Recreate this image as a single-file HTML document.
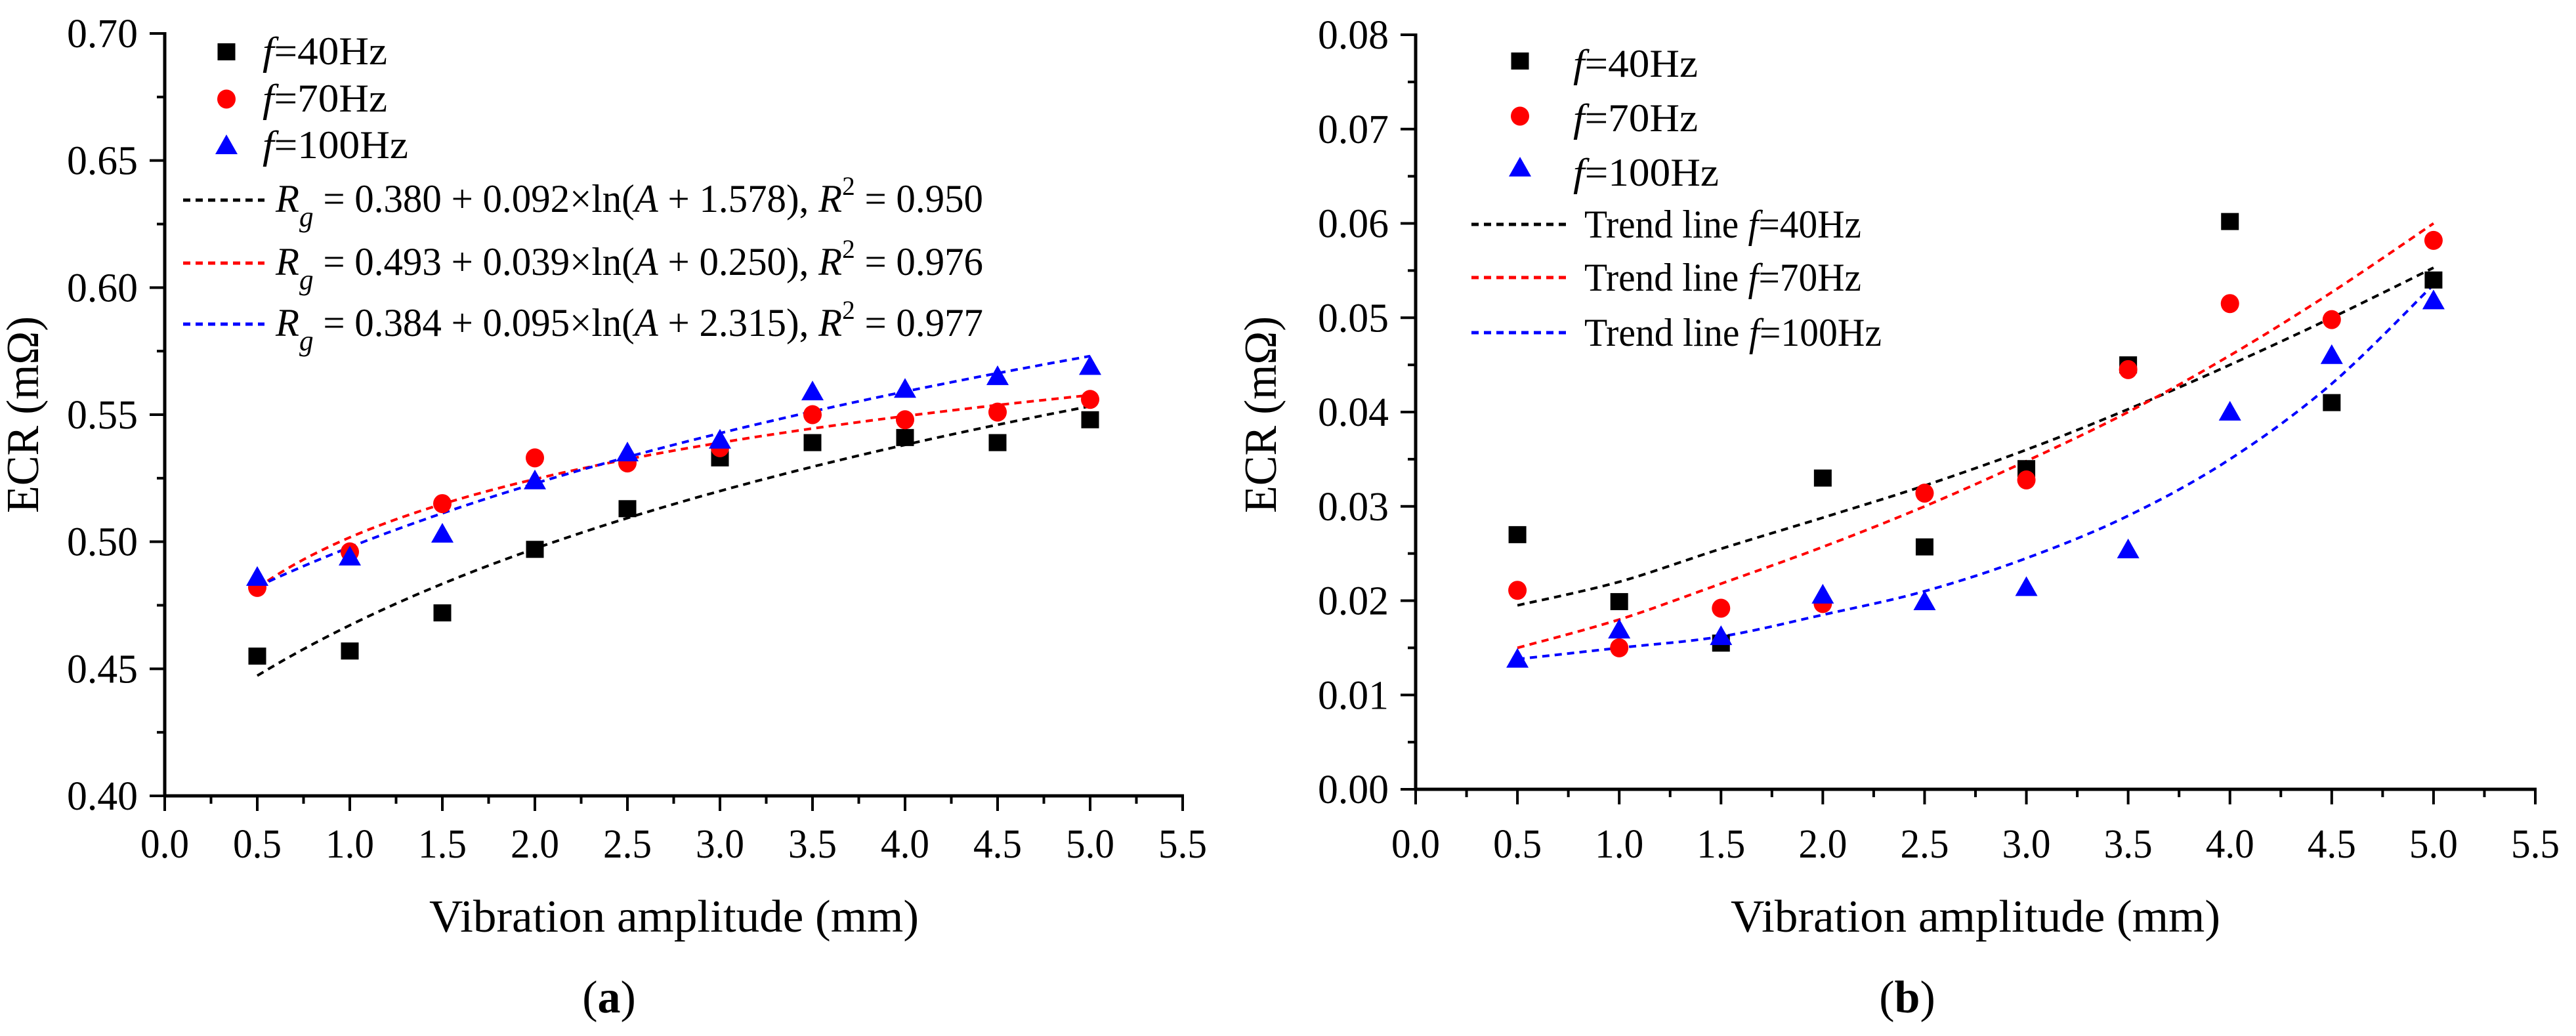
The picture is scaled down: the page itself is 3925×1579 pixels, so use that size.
<!DOCTYPE html>
<html><head><meta charset="utf-8"><style>
html,body{margin:0;padding:0;background:#fff;}
svg, svg text{font-family:"Liberation Serif","Times New Roman",serif;}
</style></head><body>
<svg id="fig" width="3925" height="1574" viewBox="0 0 3925 1574" xmlns="http://www.w3.org/2000/svg">
<rect width="3925" height="1574" fill="#fff"/>
<g id="pa"></g>
<g id="pb"></g>
</svg>
<script>
// ---- data ----
const xVals = [0.5,1.0,1.5,2.0,2.5,3.0,3.5,4.0,4.5,5.0];
const xTicks = ["0.0","0.5","1.0","1.5","2.0","2.5","3.0","3.5","4.0","4.5","5.0","5.5"];
const aY40 = [0.455,0.457,0.472,0.497,0.513,0.533,0.539,0.541,0.539,0.548];
const aY70 = [0.482,0.496,0.515,0.533,0.531,0.537,0.550,0.548,0.551,0.556];
const aY100 = [0.486,0.494,0.503,0.524,0.535,0.540,0.559,0.560,0.565,0.569];
const aFit40 = [0.380,0.092,1.578];
const aFit70 = [0.493,0.039,0.250];
const aFit100 = [0.384,0.095,2.315];
const aYTicks = ["0.40","0.45","0.50","0.55","0.60","0.65","0.70"];
const bY40 = [0.0270,0.0199,0.0155,0.0330,0.0257,0.0340,0.0450,0.0602,0.0410,0.0540];
const bY70 = [0.0211,0.0150,0.0192,0.0197,0.0314,0.0328,0.0445,0.0515,0.0498,0.0582];
const bY100 = [0.0138,0.0169,0.0162,0.0206,0.0199,0.0214,0.0254,0.0400,0.0460,0.0518];
const bTrend40 = [0.0195,0.0220,0.0255,0.0288,0.0322,0.0360,0.0403,0.0450,0.0500,0.0553];
const bTrend70 = [0.0150,0.0180,0.0218,0.0257,0.0300,0.0348,0.0400,0.0460,0.0527,0.0600];
const bTrend100 = [0.0138,0.0150,0.0162,0.0185,0.0210,0.0245,0.0290,0.0350,0.0430,0.0535];
const bYTicks = ["0.00","0.01","0.02","0.03","0.04","0.05","0.06","0.07","0.08"];

const NS="http://www.w3.org/2000/svg";
const FF='"Liberation Serif", "Times New Roman", serif';
function mk(parent,tag,attrs,txt){const e=document.createElementNS(NS,tag);if(tag==='text')e.setAttribute('font-family',FF);for(const k in attrs)e.setAttribute(k,attrs[k]);if(txt!==undefined)e.textContent=txt;parent.appendChild(e);return e;}

function panel(g,cfg){
  const X=v=>cfg.x0+(v-0)/5.5*(cfg.x1-cfg.x0);
  const Y=v=>cfg.yb-(v-cfg.ymin)/(cfg.ymax-cfg.ymin)*(cfg.yb-cfg.yt);
  let e=mk(g,'line',{x1:cfg.x0,y1:cfg.yt-2,x2:cfg.x0,y2:cfg.yb+2,stroke:'#000','stroke-width':5});
  
  e=mk(g,'line',{x1:cfg.x0-2,y1:cfg.yb,x2:cfg.x1+2,y2:cfg.yb,stroke:'#000','stroke-width':5});
  
  xTicks.forEach((t,i)=>{
    const v=i*0.5,x=X(v);
    let l=mk(g,'line',{x1:x,y1:cfg.yb,x2:x,y2:cfg.yb+23,stroke:'#000','stroke-width':4});
    
    if(i<xTicks.length-1){let m=mk(g,'line',{x1:X(v+0.25),y1:cfg.yb,x2:X(v+0.25),y2:cfg.yb+12,stroke:'#000','stroke-width':4});
      }
    let tx=mk(g,'text',{x:x,y:1307,'font-size':62,'text-anchor':'middle',textLength:74,lengthAdjust:'spacingAndGlyphs'},t);
    
  });
  const n=cfg.yTicks.length, step=(cfg.ymax-cfg.ymin)/(n-1);
  cfg.yTicks.forEach((t,i)=>{
    const v=cfg.ymin+i*step,y=Y(v);
    let l=mk(g,'line',{x1:cfg.x0-23,y1:y,x2:cfg.x0,y2:y,stroke:'#000','stroke-width':4});
    
    if(i<n-1){let m=mk(g,'line',{x1:cfg.x0-12,y1:Y(v+step/2),x2:cfg.x0,y2:Y(v+step/2),stroke:'#000','stroke-width':4});
      }
    let tx=mk(g,'text',{x:cfg.x0-41,y:y+21,'font-size':62,'text-anchor':'end',textLength:108,lengthAdjust:'spacingAndGlyphs'},t);
    
  });
  let yt=mk(g,'text',{x:0,y:0,'font-size':70,'text-anchor':'middle',textLength:300,lengthAdjust:'spacingAndGlyphs',transform:`translate(${cfg.ytx},${cfg.yty}) rotate(-90)`},'ECR (mΩ)');
  
  let xt=mk(g,'text',{x:cfg.xtx,y:1420,'font-size':70,'text-anchor':'middle',textLength:746,lengthAdjust:'spacingAndGlyphs'},'Vibration amplitude (mm)');
  
  let pl=mk(g,'text',{x:cfg.plx,y:1543,'font-size':70,'text-anchor':'middle'});
  
  mk(pl,'tspan',{},'(');mk(pl,'tspan',{'font-weight':'bold'},cfg.label);mk(pl,'tspan',{},')');
  return {X,Y};
}
function curve(g,pts,color,name){
  let d='M'+pts.map(p=>p[0].toFixed(1)+','+p[1].toFixed(1)).join(' L');
  const p=mk(g,'path',{d:d,fill:'none',stroke:color,'stroke-width':4,'stroke-dasharray':'11 8'});
  
}
function spline(xs,ys,X,Y){
  const P=xs.map((x,i)=>[X(x),Y(ys[i])]);const out=[];
  for(let i=0;i<P.length-1;i++){
    const p0=P[Math.max(0,i-1)],p1=P[i],p2=P[i+1],p3=P[Math.min(P.length-1,i+2)];
    for(let t=0;t<1;t+=0.1){const t2=t*t,t3=t2*t;
      out.push([0.5*((2*p1[0])+(-p0[0]+p2[0])*t+(2*p0[0]-5*p1[0]+4*p2[0]-p3[0])*t2+(-p0[0]+3*p1[0]-3*p2[0]+p3[0])*t3),
                0.5*((2*p1[1])+(-p0[1]+p2[1])*t+(2*p0[1]-5*p1[1]+4*p2[1]-p3[1])*t2+(-p0[1]+3*p1[1]-3*p2[1]+p3[1])*t3)]);}
  }
  out.push(P[P.length-1]);return out;
}
function marker(g,type,x,y,name){
  let e;
  if(type==='sq')e=mk(g,'rect',{x:x-13.5,y:y-13,width:27,height:26,fill:'#000'});
  else if(type==='ci')e=mk(g,'ellipse',{cx:x,cy:y,rx:14,ry:14.5,fill:'#f00'});
  else e=mk(g,'polygon',{points:`${x},${y-17} ${x-17},${y+13} ${x+17},${y+13}`,fill:'#00f'});
  
}
function legendText(g,x,y,parts,len,name){
  const t=mk(g,'text',{x:x,y:y,'font-size':60,textLength:len,lengthAdjust:'spacingAndGlyphs'});
  
  parts.forEach(p=>{const a={};if(p.i)a['font-style']='italic';if(p.dy)a.dy=p.dy;if(p.fs)a['font-size']=p.fs;mk(t,'tspan',a,p.t);});
}

// ---- panel a ----
const ga=document.getElementById('pa');
const A=panel(ga,{x0:251,x1:1802,yt:51,yb:1213,ymin:0.40,ymax:0.70,yTicks:aYTicks,ytx:58,yty:632,xtx:1027,plx:928,label:'a'});
[[aFit40,'#000','trend-40hz'],[aFit70,'#f00','trend-70hz'],[aFit100,'#00f','trend-100hz']].forEach(([c,col,nm])=>{
  const pts=[];for(let x=0.5;x<=5.0001;x+=0.05)pts.push([A.X(x),A.Y(c[0]+c[1]*Math.log(x+c[2]))]);curve(ga,pts,col,nm);
});
xVals.forEach((x,i)=>{marker(ga,'sq',A.X(x),A.Y(aY40[i]),'point-40hz');});
xVals.forEach((x,i)=>{marker(ga,'ci',A.X(x),A.Y(aY70[i]),'point-70hz');});
xVals.forEach((x,i)=>{marker(ga,'tr',A.X(x),A.Y(aY100[i]),'point-100hz');});
marker(ga,'sq',345,79,'legend-marker-40hz');marker(ga,'ci',345,151,'legend-marker-70hz');marker(ga,'tr',345,222,'legend-marker-100hz');
legendText(ga,400,98,[{t:'f',i:1},{t:'=40Hz'}],190,'legend-40hz');
legendText(ga,400,170,[{t:'f',i:1},{t:'=70Hz'}],190,'legend-70hz');
legendText(ga,400,241,[{t:'f',i:1},{t:'=100Hz'}],222,'legend-100hz');
const fitTxt=[["0.380","0.092","1.578","0.950"],["0.493","0.039","0.250","0.976"],["0.384","0.095","2.315","0.977"]];
const fitCol=['#000','#f00','#00f'], fitY=[305,401,494];
fitTxt.forEach((f,i)=>{
  const l=mk(ga,'line',{x1:279,y1:fitY[i],x2:403,y2:fitY[i],stroke:fitCol[i],'stroke-width':5,'stroke-dasharray':'11 8'});
  
  legendText(ga,420,fitY[i]+18,[{t:'R',i:1},{t:'g',i:1,dy:22,fs:44},{t:' = '+f[0]+' + '+f[1]+'×ln(',dy:-22},{t:'A',i:1},{t:' + '+f[2]+'), '},{t:'R',i:1},{t:'2',dy:-26,fs:40},{t:' = '+f[3],dy:26}],1078,'legend-fit-equation');
});

// ---- panel b ----
const gb=document.getElementById('pb');
const B=panel(gb,{x0:2157,x1:3863,yt:53,yb:1203,ymin:0,ymax:0.08,yTicks:bYTicks,ytx:1944,yty:632,xtx:3010,plx:2906,label:'b'});
curve(gb,spline(xVals,bTrend40,B.X,B.Y),'#000','trend-40hz');
curve(gb,spline(xVals,bTrend70,B.X,B.Y),'#f00','trend-70hz');
curve(gb,spline(xVals,bTrend100,B.X,B.Y),'#00f','trend-100hz');
xVals.forEach((x,i)=>{marker(gb,'sq',B.X(x),B.Y(bY40[i]),'point-40hz');});
xVals.forEach((x,i)=>{marker(gb,'ci',B.X(x),B.Y(bY70[i]),'point-70hz');});
xVals.forEach((x,i)=>{marker(gb,'tr',B.X(x),B.Y(bY100[i]),'point-100hz');});
marker(gb,'sq',2316,93,'legend-marker-40hz');marker(gb,'ci',2316,177,'legend-marker-70hz');marker(gb,'tr',2316,256,'legend-marker-100hz');
legendText(gb,2397,117,[{t:'f',i:1},{t:'=40Hz'}],190,'legend-40hz');
legendText(gb,2397,200,[{t:'f',i:1},{t:'=70Hz'}],190,'legend-70hz');
legendText(gb,2397,283,[{t:'f',i:1},{t:'=100Hz'}],222,'legend-100hz');
const trY=[342,423,507], trLab=['40Hz','70Hz','100Hz'], trLen=[422,422,453];
trY.forEach((y,i)=>{
  const l=mk(gb,'line',{x1:2242,y1:y,x2:2392,y2:y,stroke:fitCol[i],'stroke-width':5,'stroke-dasharray':'11 8'});
  
  legendText(gb,2414,y+20,[{t:'Trend line '},{t:'f',i:1},{t:'='+trLab[i]}],trLen[i],'legend-trend-'+trLab[i].toLowerCase());
});
</script>
</body></html>
